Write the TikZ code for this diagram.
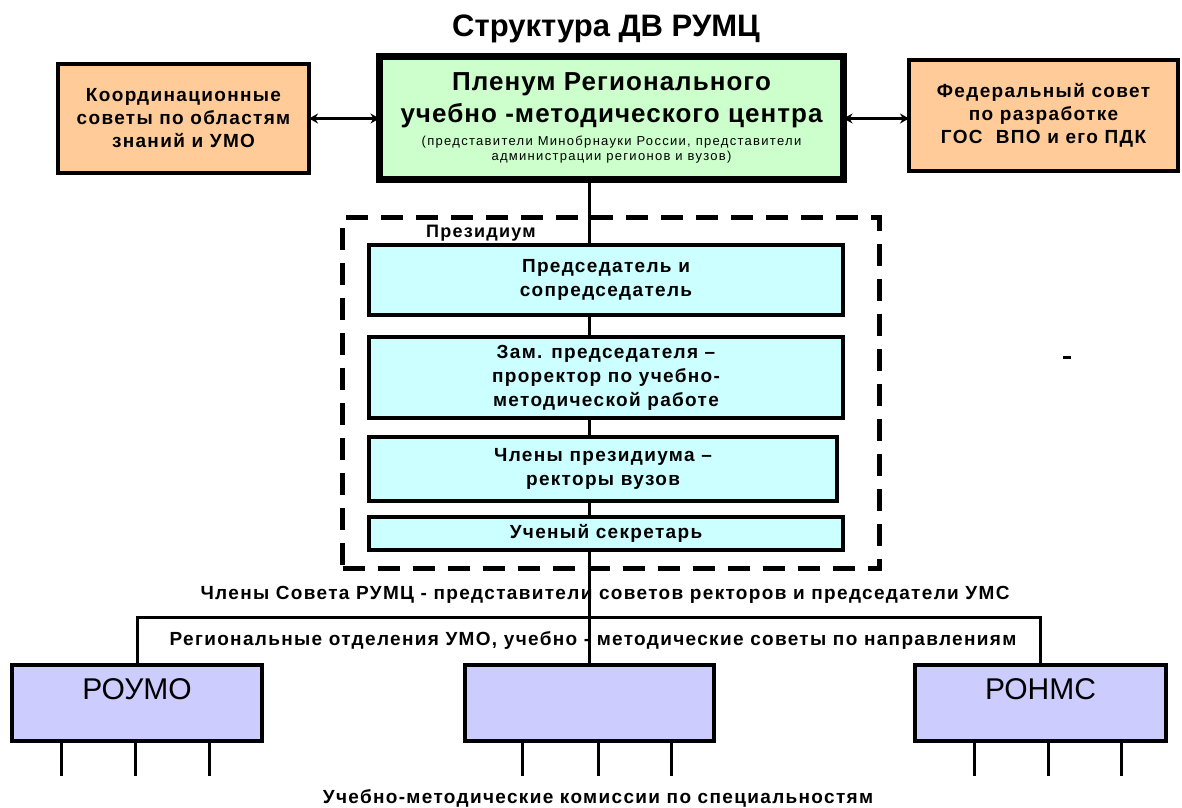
\documentclass[tikz,border=0pt]{standalone}
\usepackage{fontspec}
\setmainfont{Liberation Sans}
\newfontfamily\lsfour[LetterSpace=4]{Liberation Sans}
\newfontfamily\lsseven[LetterSpace=7]{Liberation Sans}
\newfontfamily\lsten[LetterSpace=10]{Liberation Sans}
\usetikzlibrary{arrows.meta}
\definecolor{orangefill}{HTML}{FFCC99}
\definecolor{greenfill}{HTML}{CCFFCC}
\definecolor{cyanfill}{HTML}{CCFFFF}
\definecolor{purplefill}{HTML}{CCCCFF}
\begin{document}
\begin{tikzpicture}[x=1pt,y=-1pt,
  every node/.style={inner sep=0pt, outer sep=0pt},
  boxbase/.style={draw, line width=4pt, align=center},
  orangebox/.style={boxbase, fill=orangefill, font=\lsseven\bfseries\fontsize{19}{23}\selectfont},
  greenbox/.style={draw, line width=7pt, align=center, fill=greenfill},
  cyanbox/.style={boxbase, fill=cyanfill, font=\lsseven\bfseries\fontsize{19}{24}\selectfont},
  purplebox/.style={boxbase, fill=purplefill},
  dashframe/.style={draw, line width=5pt, dash pattern=on 22pt off 13pt},
  conn/.style={line width=3pt},
  dblarrow/.style={line width=3pt, {Stealth[length=9pt,width=10pt]}-{Stealth[length=9pt,width=10pt]}},
  lbl/.style={font=\lsseven\bfseries\fontsize{19}{23}\selectfont},
  tick/.style={line width=3pt}
]
\useasboundingbox (0,0) rectangle (1182,807);

% title
\node[font=\bfseries\fontsize{31}{36}\selectfont] (title) at (606,29) {Структура ДВ РУМЦ};

% top row
\node[orangebox, minimum width=251pt, minimum height=109pt] (koord) at (183.5,118.5)
  {Координационные\\советы по областям\\знаний и УМО};
\node[greenbox, minimum width=464pt, minimum height=123pt] (plenum) at (611.5,118)
  {{\lsfour\bfseries\fontsize{26}{34}\selectfont Пленум Регионального}\\[7pt]
   {\lsfour\bfseries\fontsize{26}{28}\selectfont учебно -методического центра}\\[7pt]
   {\lsten\mdseries\fontsize{13}{16}\selectfont (представители Минобрнауки России, представители}\\[2pt]
   {\lsten\mdseries\fontsize{13}{16}\selectfont администрации регионов и вузов)}};
\node[orangebox, minimum width=269pt, minimum height=111pt] (fed) at (1043.5,115.5)
  {Федеральный совет\\по разработке\\ГОС\ \ ВПО и его ПДК};

\draw[dblarrow] (koord.east) -- (koord.east -| plenum.west);
\draw[dblarrow] (plenum.east |- koord.east) -- (plenum.east |- koord.east -| fed.west);

% presidium frame
\node[dashframe, minimum width=537pt, minimum height=351pt] (presid) at (611,393) {};
\node[font=\lsseven\bfseries\fontsize{18}{20}\selectfont] (presidlbl) at (481,233) {Президиум};

\node[cyanbox, minimum width=474pt, minimum height=70pt] (b1) at (606,280)
  {Председатель и\\сопредседатель};
\node[cyanbox, minimum width=474pt, minimum height=81pt] (b2) at (606,377.5)
  {Зам. председателя –\\проректор по учебно-\\методической работе};
\node[cyanbox, minimum width=468pt, minimum height=64pt] (b3) at (603,469)
  {Члены президиума –\\ректоры вузов};
\node[cyanbox, minimum width=474pt, minimum height=33pt] (b4) at (606,533.5)
  {Ученый секретарь};

\coordinate (spine) at (589,0);
\draw[conn] (plenum.south -| spine) -- (b1.north -| spine);
\draw[conn] (b1.south -| spine) -- (b2.north -| spine);
\draw[conn] (b2.south -| spine) -- (b3.north -| spine);
\draw[conn] (b3.south -| spine) -- (b4.north -| spine);

% bottom row
\node[purplebox, minimum width=250pt, minimum height=76pt,
  label={[anchor=north, yshift=-14pt, font=\fontsize{30}{34}\selectfont]north:РОУМО}] (roumo) at (137,703) {};
\node[purplebox, minimum width=249pt, minimum height=76pt] (mid) at (589.5,703) {};
\node[purplebox, minimum width=251pt, minimum height=76pt,
  label={[anchor=north, yshift=-14pt, font=\fontsize{30}{34}\selectfont]north:РОНМС}] (ronms) at (1040.5,703) {};

\draw[conn] (b4.south -| spine) -- (mid.north -| spine);
\coordinate (bus) at (589,617);
\draw[conn] (roumo.north) |- (bus) -| (ronms.north);

\node[lbl] (sovet) at (605,595) {Члены Совета РУМЦ - представители советов ректоров и председатели УМС};
\node[lbl] (otdel) at (593,640) {Региональные отделения УМО, учебно - методические советы по направлениям};
\node[lbl] (komis) at (598,798) {Учебно-методические комиссии по специальностям};

% ticks under bottom boxes
\foreach \n/\dx in {roumo/-76, roumo/-2, roumo/72, mid/-67.5, mid/8.5, mid/81.5, ronms/-66.5, ronms/7.5, ronms/80.5}
  \draw[tick] ([xshift=\dx pt]\n.south) -- ++(0,35);

% stray dash
\draw[line width=3pt] (1063,357) -- (1071,357);
\end{tikzpicture}
\end{document}
